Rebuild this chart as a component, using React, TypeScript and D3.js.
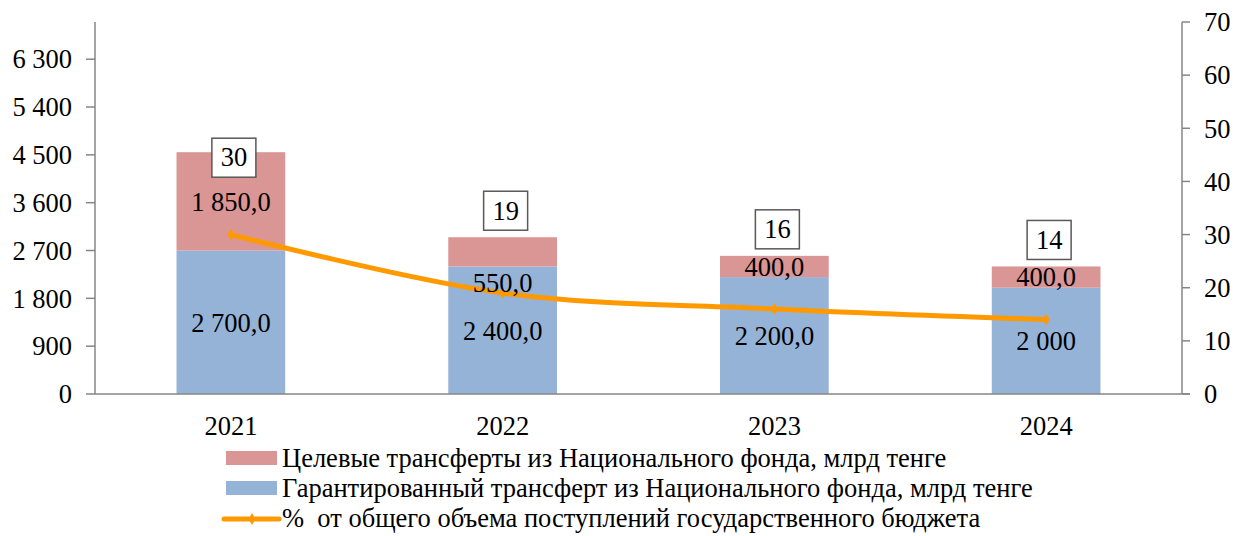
import { useEffect, useRef } from "react";
import * as d3 from "d3";

// data
const years = ["2021", "2022", "2023", "2024"];
const guaranteed = [2700, 2400, 2200, 2000];
const targeted = [1850, 550, 400, 400];
const sharePct = [30, 19, 16, 14];
const guaranteedLabels = ["2 700,0", "2 400,0", "2 200,0", "2 000"];
const targetedLabels = ["1 850,0", "550,0", "400,0", "400,0"];
const leftTicks = [0, 900, 1800, 2700, 3600, 4500, 5400, 6300];
const rightTicks = [0, 10, 20, 30, 40, 50, 60, 70];
const legendNames = [
  "Целевые трансферты из Национального фонда, млрд тенге",
  "Гарантированный трансферт из Национального фонда, млрд тенге",
  "%  от общего объема поступлений государственного бюджета",
];

const W = 1246;
const H = 536;
const RED = "#D99694";
const BLUE = "#95B3D7";
const ORANGE = "#FF9900";
const AXIS = "#868686";
const FONT = "'Liberation Serif', 'Times New Roman', serif";

// manual nudges for labels, like in the original
const boxDy = [32, 0, 0, 0];
const redLabelDy = [0, 31, 0, 0];

export default function App() {
  const ref = useRef<SVGSVGElement>(null);

  useEffect(() => {
    const svg = d3.select(ref.current);
    svg.selectAll("*").remove();

    const left = 95;
    const right = 1182;
    const top = 22;
    const bottom = 394;

    const x = d3.scaleBand().domain(years).range([left, right]).paddingInner(0.6).paddingOuter(0.3);
    const y = d3.scaleLinear().domain([0, 7000]).range([bottom, top]);
    const y2 = d3.scaleLinear().domain([0, 70]).range([bottom, top]);

    const g = svg.append("g");
    const text = (tx: number, ty: number, s: string | number, anchor = "start") =>
      g
        .append("text")
        .attr("x", tx)
        .attr("y", ty)
        .attr("dy", "0.35em")
        .attr("text-anchor", anchor)
        .style("font-family", FONT)
        .style("font-size", "26.5px")
        .style("fill", "#000")
        .text(String(s));

    // bars
    years.forEach((yr, i) => {
      const x0 = x(yr)!;
      g.append("rect")
        .attr("x", x0)
        .attr("y", y(guaranteed[i]))
        .attr("width", x.bandwidth())
        .attr("height", y(0) - y(guaranteed[i]))
        .attr("fill", BLUE);
      g.append("rect")
        .attr("x", x0)
        .attr("y", y(guaranteed[i] + targeted[i]))
        .attr("width", x.bandwidth())
        .attr("height", y(guaranteed[i]) - y(guaranteed[i] + targeted[i]))
        .attr("fill", RED);
    });

    // axes
    const axisLine = (x1: number, x2: number, y1: number, y2_: number) =>
      g.append("line").attr("x1", x1).attr("x2", x2).attr("y1", y1).attr("y2", y2_).attr("stroke", AXIS).attr("stroke-width", 1.5);
    axisLine(left, right + 8, bottom, bottom);
    axisLine(left, left, top, bottom);
    axisLine(right, right, top, bottom);

    leftTicks.forEach((t) => {
      axisLine(left - 9, left, y(t), y(t));
      text(72, y(t), d3.format(",")(t).replace(/,/g, " "), "end");
    });
    rightTicks.forEach((t) => {
      axisLine(right, right + 8, y2(t), y2(t));
      text(1204, y2(t), t);
    });

    years.forEach((yr) => {
      text(x(yr)! + x.bandwidth() / 2, 426, yr, "middle");
    });

    // line
    const pts: [number, number][] = years.map((yr, i) => [x(yr)! + x.bandwidth() / 2, y2(sharePct[i])]);
    g.append("path")
      .attr("d", d3.line().curve(d3.curveCatmullRom.alpha(0.5))(pts))
      .attr("fill", "none")
      .attr("stroke", ORANGE)
      .attr("stroke-width", 5)
      .attr("stroke-linecap", "round");
    pts.forEach(([px, py]) => {
      g.append("path")
        .attr("d", d3.symbol(d3.symbolDiamond, 40)())
        .attr("transform", `translate(${px},${py})`)
        .attr("fill", ORANGE);
    });

    // value labels
    years.forEach((yr, i) => {
      const cx = x(yr)! + x.bandwidth() / 2;
      text(cx, (y(0) + y(guaranteed[i])) / 2, guaranteedLabels[i], "middle");
      text(cx, (y(guaranteed[i]) + y(guaranteed[i] + targeted[i])) / 2 + redLabelDy[i], targetedLabels[i], "middle");

      const bc = y(guaranteed[i] + targeted[i]) - 27 + boxDy[i];
      g.append("rect")
        .attr("x", cx - 22 + 3)
        .attr("y", bc - 19)
        .attr("width", 44)
        .attr("height", 39)
        .attr("fill", "#fff")
        .attr("stroke", "#595959")
        .attr("stroke-width", 1.5);
      text(cx + 3, bc, sharePct[i], "middle");
    });

    // legend
    const lx = 226;
    const rows = [458, 488, 518];
    g.append("rect").attr("x", lx).attr("y", rows[0] - 7).attr("width", 51).attr("height", 14).attr("fill", RED);
    g.append("rect").attr("x", lx).attr("y", rows[1] - 7).attr("width", 51).attr("height", 14).attr("fill", BLUE);
    g.append("line").attr("x1", lx - 2).attr("x2", lx + 53).attr("y1", rows[2] + 1).attr("y2", rows[2] + 1).attr("stroke", ORANGE).attr("stroke-width", 5).attr("stroke-linecap", "round");
    g.append("path").attr("d", d3.symbol(d3.symbolDiamond, 40)()).attr("transform", `translate(${lx + 26},${rows[2] + 1})`).attr("fill", ORANGE);
    legendNames.forEach((n, i) => {
      text(282, rows[i], n).style("white-space", "pre");
    });
  }, []);

  return (
    <svg
      ref={ref}
      width={W}
      height={H}
      style={{ position: "absolute", left: 0, top: 0, background: "#fff", display: "block" }}
    />
  );
}
